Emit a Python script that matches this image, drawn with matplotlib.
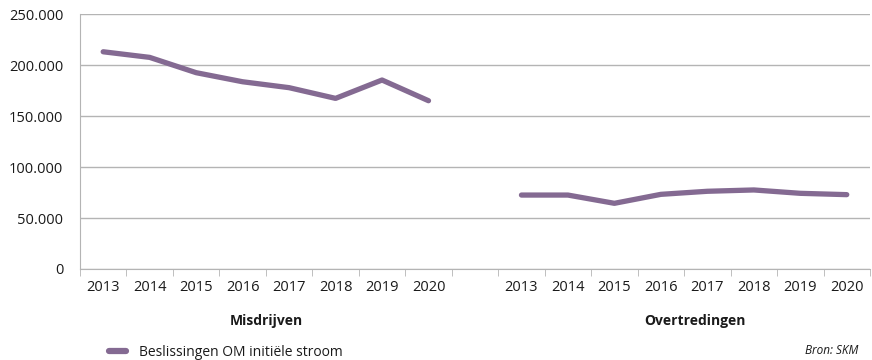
import matplotlib.pyplot as plt
from matplotlib.ticker import FuncFormatter, FixedLocator

# data
years = ['2013', '2014', '2015', '2016', '2017', '2018', '2019', '2020']
misdrijven = [213000, 207500, 192500, 183600, 177800, 167300, 185300, 165000]
overtredingen = [72500, 72500, 64400, 73200, 76200, 77500, 74200, 72900]
group_labels = ['Misdrijven', 'Overtredingen']
legend_label = 'Beslissingen OM initiële stroom'

color = '#846a92'
grid_color = '#b4b4b4'
plt.rcParams['font.family'] = ['Open Sans', 'DejaVu Sans']

fig = plt.figure(figsize=(8.72, 3.6), dpi=100)
ax = fig.add_axes([0.0917, 0.2528, 0.906, 0.7082])

n = len(years)
x1 = list(range(n))
x2 = [n + 1 + i for i in range(n)]
ax.plot(x1, misdrijven, color=color, lw=3.8, solid_capstyle='round', solid_joinstyle='round')
ax.plot(x2, overtredingen, color=color, lw=3.8, solid_capstyle='round', solid_joinstyle='round')

ax.set_xlim(-0.5, 2 * n + 0.5)
ax.set_ylim(0, 250000)
ax.set_yticks(range(0, 250001, 50000))
ax.yaxis.set_major_formatter(FuncFormatter(lambda v, p: f'{int(v):,}'.replace(',', '.')))
ax.grid(axis='y', color=grid_color, lw=1)
ax.set_axisbelow(True)

ax.set_xticks(x1 + x2)
ax.set_xticklabels(years + years)
ax.xaxis.set_minor_locator(FixedLocator([i + 0.5 for i in range(-1, 2 * n + 1)]))
ax.tick_params(axis='x', which='major', length=0, pad=8, labelsize=10.5, colors='#1a1a1a')
ax.tick_params(axis='x', which='minor', length=5, color=grid_color, direction='out')
ax.tick_params(axis='y', length=0, pad=12, labelsize=10.5, colors='#1a1a1a')

for s in ['top', 'right']:
    ax.spines[s].set_visible(False)
for s in ['left', 'bottom']:
    ax.spines[s].set_color(grid_color)

# group labels
fig.text(266 / 872, 1 - 321 / 360, group_labels[0], ha='center', va='center',
         fontsize=10, fontweight='bold', color='#1a1a1a')
fig.text(695 / 872, 1 - 321 / 360, group_labels[1], ha='center', va='center',
         fontsize=10, fontweight='bold', color='#1a1a1a')

# legend
fig.lines.append(plt.Line2D([109 / 872, 126 / 872], [1 - 351 / 360] * 2, transform=fig.transFigure,
                            color=color, lw=4.5, solid_capstyle='round'))
fig.text(139 / 872, 1 - 352 / 360, legend_label, ha='left', va='center', fontsize=10, color='#1a1a1a')
fig.text(858 / 872, 1 - 350 / 360, 'Bron: SKM', ha='right', va='center', fontsize=8.5,
         style='italic', color='#1a1a1a')

fig.savefig('out.png', dpi=100)
